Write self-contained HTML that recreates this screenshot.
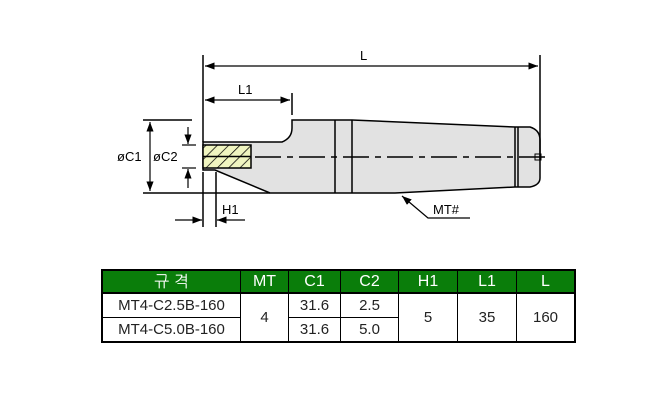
<!DOCTYPE html>
<html><head><meta charset="utf-8"><style>
body{margin:0;background:#fff;width:670px;height:401px;overflow:hidden;font-family:"Liberation Sans","NanumGothic",sans-serif}
table{position:absolute;left:101px;top:269px;border-collapse:collapse;border:2px solid #000}
td{border:1px solid #000;text-align:center;font-size:15px;color:#222;padding:0;font-family:"Liberation Sans","NanumGothic",sans-serif}
tr.h td{background:#0a7d0a;color:#fff;height:21px;font-size:16px;border-bottom:2px solid #000}
tr.d td{height:23px}
</style></head><body>
<svg width="670" height="401" style="position:absolute;left:0;top:0" font-family="Liberation Sans, sans-serif" font-size="13">
<defs>
<marker id="a" markerWidth="8" markerHeight="6" refX="8" refY="3" orient="auto-start-reverse"><path d="M0,0L8,3L0,6z" fill="#000"/></marker>
<pattern id="h" width="8" height="8" patternUnits="userSpaceOnUse" patternTransform="rotate(45)"><rect width="8" height="8" fill="#f0f5c0"/><line x1="0" y1="0" x2="0" y2="8" stroke="#000" stroke-width="1.5"/></pattern>
</defs>
<path d="M292,120 L352,120 L515,127 L530,127 Q540,130 540,140 L540,178 Q540,185 530,187 L515,187 L395,193 L270,193 L215,170 L203,170 L203,142 L282,142 Q292,138 292,128 Z" fill="#e2e2e2" stroke="#000" stroke-width="1.5"/>
<rect x="203" y="145" width="48" height="23" fill="url(#h)" stroke="#000" stroke-width="1.5"/>
<line x1="203" y1="156.5" x2="251" y2="156.5" stroke="#000" stroke-width="1.5"/>
<g stroke="#000" stroke-width="1.5">
<line x1="335" y1="120" x2="335" y2="193"/><line x1="352" y1="120" x2="352" y2="193"/>
<line x1="515" y1="127" x2="515" y2="187"/><line x1="518" y1="127" x2="518" y2="187"/>
<line x1="143" y1="120" x2="192" y2="120"/><line x1="143" y1="193" x2="270" y2="193"/>
<line x1="203" y1="55" x2="203" y2="142"/><line x1="540" y1="55" x2="540" y2="160"/>
<line x1="292" y1="93" x2="292" y2="115"/>
<line x1="203" y1="172" x2="203" y2="227"/><line x1="216" y1="172" x2="216" y2="227"/>
</g>
<line x1="255" y1="157" x2="545" y2="157" stroke="#000" stroke-width="1.5" stroke-dasharray="26,6,6,6"/>
<rect x="535" y="154" width="6" height="6" fill="none" stroke="#000"/>
<g stroke="#000" stroke-width="1.2" fill="none">
<line x1="205" y1="66" x2="538" y2="66" marker-start="url(#a)" marker-end="url(#a)"/>
<line x1="205" y1="100" x2="290" y2="100" marker-start="url(#a)" marker-end="url(#a)"/>
<line x1="150" y1="122" x2="150" y2="191" marker-start="url(#a)" marker-end="url(#a)"/>
<line x1="188" y1="127" x2="188" y2="144" marker-end="url(#a)"/>
<line x1="188" y1="188" x2="188" y2="169" marker-end="url(#a)"/>
<line x1="182" y1="145" x2="196" y2="145"/><line x1="182" y1="168" x2="196" y2="168"/>
<line x1="175" y1="220" x2="202" y2="220" marker-end="url(#a)"/>
<line x1="245" y1="220" x2="217" y2="220" marker-end="url(#a)"/>
<polyline points="470,218 428,218 402,196" marker-end="url(#a)"/>
</g>
<text x="360" y="60">L</text><text x="238" y="94">L1</text>
<text x="117" y="161">øC1</text><text x="153" y="161">øC2</text>
<text x="222" y="214">H1</text><text x="433" y="214">MT#</text>
</svg>
<table>
<tr class="h"><td style="width:137px">규 격</td><td style="width:47px">MT</td><td style="width:51px">C1</td><td style="width:57px">C2</td><td style="width:58px">H1</td><td style="width:58px">L1</td><td style="width:57px">L</td></tr>
<tr class="d"><td>MT4-C2.5B-160</td><td rowspan="2">4</td><td>31.6</td><td>2.5</td><td rowspan="2">5</td><td rowspan="2">35</td><td rowspan="2">160</td></tr>
<tr class="d"><td>MT4-C5.0B-160</td><td>31.6</td><td>5.0</td></tr>
</table>
</body></html>
